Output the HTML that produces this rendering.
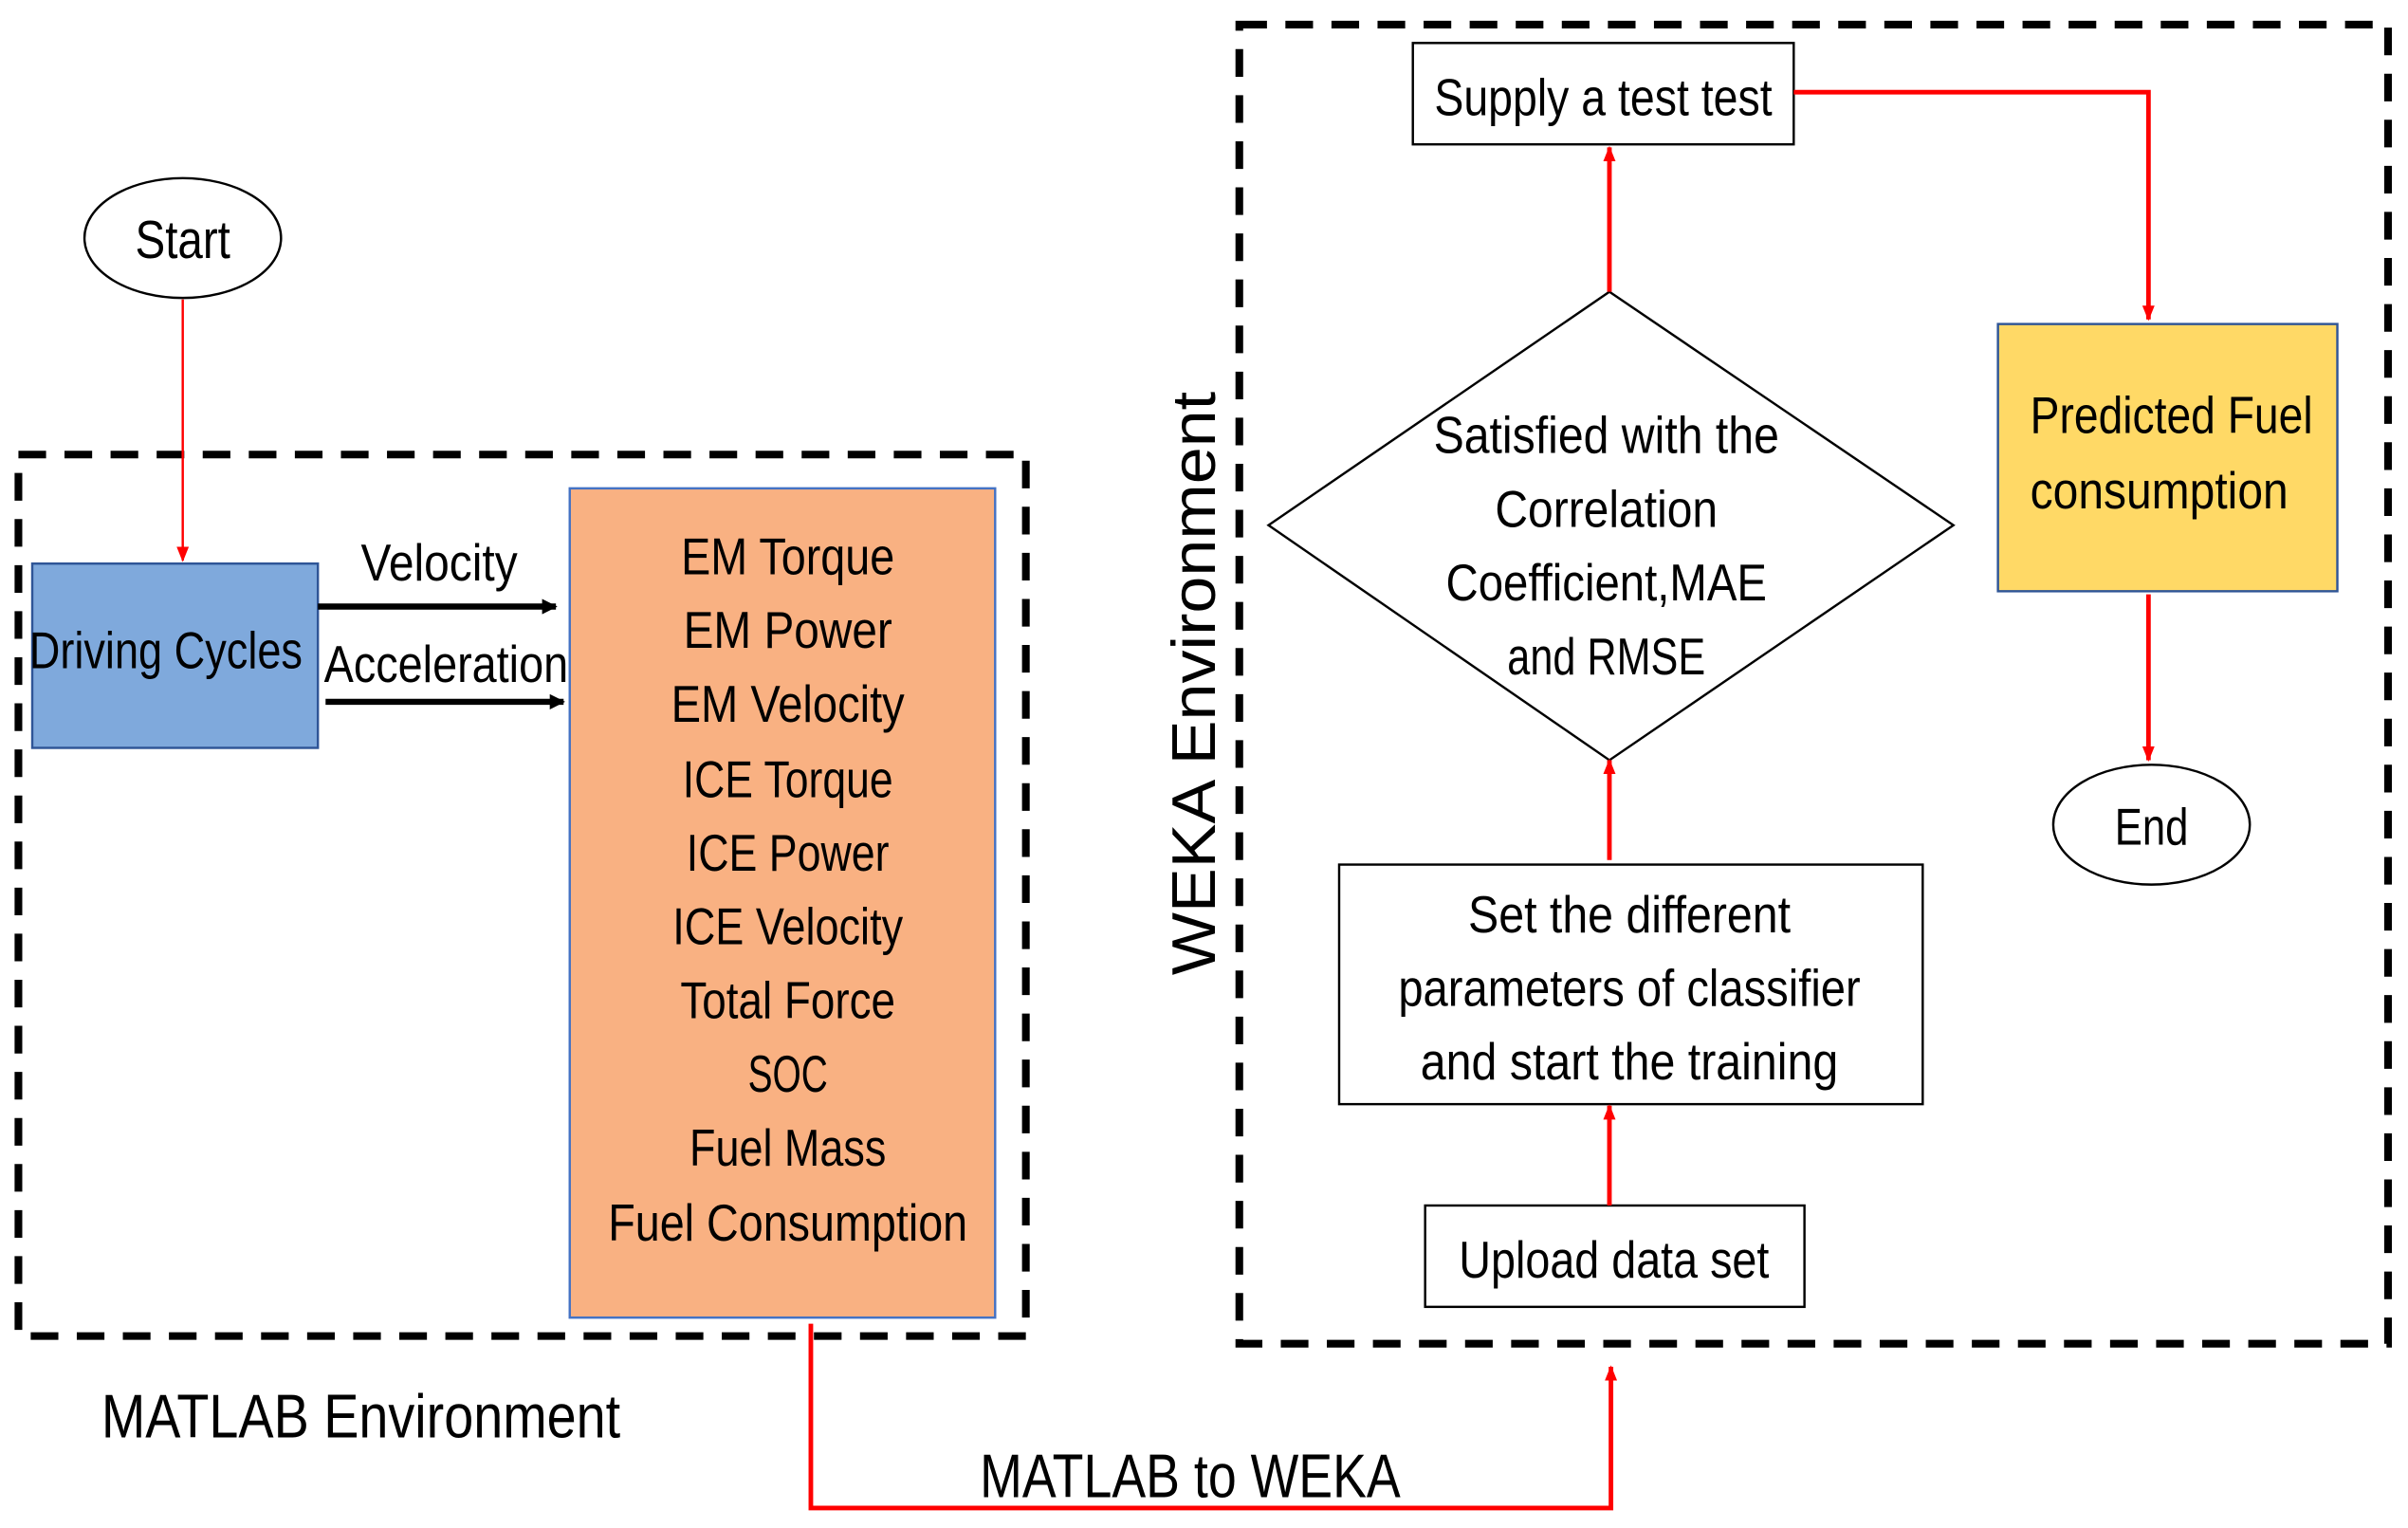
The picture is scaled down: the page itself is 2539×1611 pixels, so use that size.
<!DOCTYPE html>
<html><head><meta charset="utf-8"><style>
html,body{margin:0;padding:0;background:#fff;}
svg{display:block;}
text{font-family:"Liberation Sans Narrow","Liberation Sans",sans-serif;fill:#000;}
</style></head><body>
<svg width="2539" height="1611" viewBox="0 0 1568 995" preserveAspectRatio="none" xmlns="http://www.w3.org/2000/svg">
<defs>
<marker id="ar" markerWidth="10" markerHeight="10" refX="9" refY="5" orient="auto" markerUnits="userSpaceOnUse"><path d="M0,1 L10,5 L0,9 z" fill="#f00"/></marker>
<marker id="ab" markerWidth="10" markerHeight="10" refX="9" refY="5" orient="auto" markerUnits="userSpaceOnUse"><path d="M0,0 L10,5 L0,10 z" fill="#000"/></marker>
</defs>
<rect x="12" y="296" width="656" height="574" fill="none" stroke="#000" stroke-width="5" stroke-dasharray="18 12"/>
<rect x="807" y="16" width="748" height="859" fill="none" stroke="#000" stroke-width="5" stroke-dasharray="18 12"/>

<ellipse cx="119" cy="155" rx="64" ry="39" fill="#fff" stroke="#000" stroke-width="1.5"/>
<text x="119" y="168" font-size="35" text-anchor="middle" textLength="62" lengthAdjust="spacingAndGlyphs">Start</text>
<line x1="119" y1="195" x2="119" y2="365" stroke="#f00" stroke-width="1.5" marker-end="url(#ar)"/>

<rect x="21" y="367" width="186" height="120" fill="#7FA9DC" stroke="#2F5597" stroke-width="1.5"/>
<text x="19" y="435" font-size="34" textLength="178" lengthAdjust="spacingAndGlyphs">Driving Cycles</text>
<text x="235" y="378" font-size="34" textLength="102" lengthAdjust="spacingAndGlyphs">Velocity</text>
<text x="211" y="444" font-size="34" textLength="159" lengthAdjust="spacingAndGlyphs">Acceleration</text>
<line x1="207" y1="395" x2="362" y2="395" stroke="#000" stroke-width="4" marker-end="url(#ab)"/>
<line x1="212" y1="457" x2="367" y2="457" stroke="#000" stroke-width="4" marker-end="url(#ab)"/>

<rect x="371" y="318" width="277" height="540" fill="#F9B182" stroke="#4472C4" stroke-width="1.5"/>
<g font-size="34" text-anchor="middle">
<text x="513" y="374" textLength="139" lengthAdjust="spacingAndGlyphs">EM Torque</text>
<text x="513" y="422" textLength="136" lengthAdjust="spacingAndGlyphs">EM Power</text>
<text x="513" y="470" textLength="152" lengthAdjust="spacingAndGlyphs">EM Velocity</text>
<text x="513" y="519" textLength="137" lengthAdjust="spacingAndGlyphs">ICE Torque</text>
<text x="513" y="567" textLength="132" lengthAdjust="spacingAndGlyphs">ICE Power</text>
<text x="513" y="615" textLength="150" lengthAdjust="spacingAndGlyphs">ICE Velocity</text>
<text x="513" y="663" textLength="140" lengthAdjust="spacingAndGlyphs">Total Force</text>
<text x="513" y="711" textLength="52" lengthAdjust="spacingAndGlyphs">SOC</text>
<text x="513" y="759" textLength="128" lengthAdjust="spacingAndGlyphs">Fuel Mass</text>
<text x="513" y="808" textLength="234" lengthAdjust="spacingAndGlyphs">Fuel Consumption</text>
</g>

<text x="66" y="936" font-size="40" textLength="338" lengthAdjust="spacingAndGlyphs">MATLAB Environment</text>
<polyline points="528,862 528,982 1049,982 1049,890" fill="none" stroke="#f00" stroke-width="3" marker-end="url(#ar)"/>
<text x="638" y="975" font-size="40" textLength="274" lengthAdjust="spacingAndGlyphs">MATLAB to WEKA</text>

<text x="0" y="0" font-size="40" textLength="380" lengthAdjust="spacingAndGlyphs" transform="translate(791,635) rotate(-90)">WEKA Environment</text>

<rect x="920" y="28" width="248" height="66" fill="#fff" stroke="#000" stroke-width="1.5"/>
<text x="934" y="75" font-size="34" textLength="220" lengthAdjust="spacingAndGlyphs">Supply a test test</text>
<polyline points="1168,60 1399,60 1399,208" fill="none" stroke="#f00" stroke-width="3" marker-end="url(#ar)"/>

<rect x="1301" y="211" width="221" height="174" fill="#FFD966" stroke="#2F5597" stroke-width="1.5"/>
<text x="1322" y="282" font-size="34" textLength="184" lengthAdjust="spacingAndGlyphs">Predicted Fuel</text>
<text x="1322" y="331" font-size="34" textLength="168" lengthAdjust="spacingAndGlyphs">consumption</text>
<line x1="1399" y1="387" x2="1399" y2="495" stroke="#f00" stroke-width="3" marker-end="url(#ar)"/>
<ellipse cx="1401" cy="537" rx="64" ry="39" fill="#fff" stroke="#000" stroke-width="1.5"/>
<text x="1401" y="550" font-size="34" text-anchor="middle" textLength="48" lengthAdjust="spacingAndGlyphs">End</text>

<polygon points="1048,190 1272,342 1048,495 826,342" fill="#fff" stroke="#000" stroke-width="1.5"/>
<g font-size="34" text-anchor="middle">
<text x="1046" y="295" textLength="225" lengthAdjust="spacingAndGlyphs">Satisfied with the</text>
<text x="1046" y="343" textLength="145" lengthAdjust="spacingAndGlyphs">Correlation</text>
<text x="1046" y="391" textLength="209" lengthAdjust="spacingAndGlyphs">Coefficient,MAE</text>
<text x="1046" y="439" textLength="129" lengthAdjust="spacingAndGlyphs">and RMSE</text>
</g>
<line x1="1048" y1="190" x2="1048" y2="96" stroke="#f00" stroke-width="3" marker-end="url(#ar)"/>

<rect x="872" y="563" width="380" height="156" fill="#fff" stroke="#000" stroke-width="1.5"/>
<g font-size="34" text-anchor="middle">
<text x="1061" y="607" textLength="210" lengthAdjust="spacingAndGlyphs">Set the different</text>
<text x="1061" y="655" textLength="301" lengthAdjust="spacingAndGlyphs">parameters of classifier</text>
<text x="1061" y="703" textLength="272" lengthAdjust="spacingAndGlyphs">and start the training</text>
</g>
<line x1="1048" y1="560" x2="1048" y2="495" stroke="#f00" stroke-width="3" marker-end="url(#ar)"/>

<rect x="928" y="785" width="247" height="66" fill="#fff" stroke="#000" stroke-width="1.5"/>
<text x="1051" y="832" font-size="34" text-anchor="middle" textLength="202" lengthAdjust="spacingAndGlyphs">Upload data set</text>
<line x1="1048" y1="785" x2="1048" y2="720" stroke="#f00" stroke-width="3" marker-end="url(#ar)"/>
</svg>
</body></html>
